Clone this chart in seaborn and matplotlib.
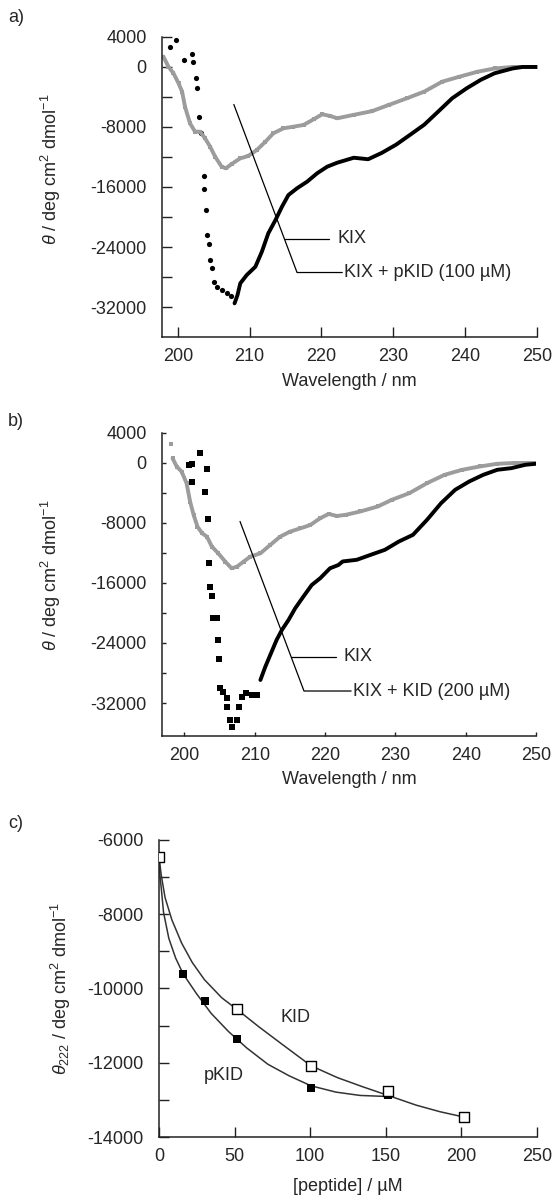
import matplotlib
matplotlib.use('Agg')
import matplotlib.pyplot as plt
import seaborn as sns
import pandas as pd

sns.set_style("ticks")
plt.rcParams['font.family'] = ['Liberation Sans', 'DejaVu Sans']
plt.rcParams['font.size'] = 13
plt.rcParams['mathtext.fontset'] = 'custom'
plt.rcParams['mathtext.rm'] = 'Liberation Sans'
plt.rcParams['mathtext.it'] = 'Liberation Sans:italic'
plt.rcParams['axes.unicode_minus'] = False

GRAY = '#9c9c9c'

# ---- panel a: KIX / KIX + pKID (100 uM)
a_kix_wl = [198.0, 198.7, 199.4, 200.1, 200.6, 201.0, 201.7, 202.4, 203.1, 203.8, 204.5,
            205.2, 206.1, 206.7, 207.5, 208.7, 209.8, 211.0, 212.2, 213.3, 214.7, 216.1,
            217.5, 218.9, 220.1, 221.2, 222.2, 224.5, 227.0, 229.4, 231.9, 234.3, 236.8,
            239.2, 241.7, 244.1, 246.6, 249.0, 250.0]
a_kix_theta = [1370, 40, -840, -2170, -3290, -5290, -7510, -8630, -8630, -9510, -10630,
               -11960, -13290, -13510, -12930, -12180, -11870, -11070, -9960, -8840, -8180, -7960,
               -7730, -6980, -6310, -6530, -6840, -6380, -5900, -5050, -4170, -3290, -1960,
               -1300, -640, -200, 0, 0, 0]

a_pkid_dots_wl = [198.9, 199.8, 200.8, 202.0, 202.1, 202.6, 202.7, 203.0, 203.25, 203.67,
                  203.7, 203.9, 204.1, 204.4, 204.55, 204.7, 205.1, 205.5, 206.1, 206.8, 207.4]
a_pkid_dots_theta = [2710, 3600, 930, 1690, 710, -1510, -2760, -6630, -8840, -14530,
                     -16270, -19070, -22400, -23640, -25730, -26840, -28620, -29290, -29730, -30090, -30530]

a_pkid_wl = [207.9, 208.3, 208.7, 209.6, 210.8, 211.7, 212.6, 213.6, 214.5, 215.4, 216.6,
             218.0, 219.4, 220.8, 222.2, 224.5, 226.5, 228.4, 230.4, 232.4, 234.3, 236.3,
             238.2, 240.2, 242.2, 244.1, 246.6, 248.0, 250.0]
a_pkid_theta = [-31510, -30440, -28840, -27730, -26630, -24630, -22170, -20400, -18630, -17070, -16170,
                -15290, -14170, -13290, -12760, -12100, -12300, -11450, -10350, -9000, -7700, -5900,
                -4170, -2850, -1700, -840, -200, 0, 0]

# ---- panel b: KIX / KIX + KID (200 uM)
b_kix_dot_wl = [198.1]
b_kix_dot_theta = [2530]
b_kix_wl = [198.3, 198.9, 199.6, 200.3, 200.8, 201.3, 201.85, 202.5, 203.2, 203.9,
            204.8, 205.8, 206.7, 207.45, 208.4, 209.35, 210.8, 212.2, 213.6, 215.0, 216.5,
            217.9, 219.3, 220.5, 221.7, 223.0, 225.0, 227.5, 229.5, 232.0, 234.5, 237.0,
            239.5, 242.0, 244.5, 247.0, 249.75]
b_kix_theta = [630, -490, -1160, -2710, -5160, -6930, -8490, -9370, -9830, -11160,
               -12040, -13160, -14040, -13830, -13160, -12490, -12040, -10930, -9830, -9160, -8710,
               -8270, -7370, -6800, -7070, -6900, -6470, -5800, -4910, -4020, -2690, -1580,
               -910, -470, -110, 0, 0]

b_kid_dots_wl = [200.7, 201.1, 201.1, 202.2, 203.2, 202.9, 203.3, 203.5, 203.7, 203.9, 204.1,
                 204.6, 204.75, 204.9, 205.1, 205.5, 206.0, 206.1, 206.5, 206.7, 207.45, 207.8,
                 208.2, 208.8, 209.6, 210.3]
b_kid_dots_theta = [-270, -130, -2490, 1380, -840, -3830, -7510, -13290, -16490, -17730, -20710,
                    -20710, -23600, -26130, -30040, -30490, -31370, -32490, -34270, -35240, -34270, -32490,
                    -31160, -30710, -30930, -30930]

b_kid_wl = [210.8, 211.5, 212.2, 213.1, 213.85, 214.8, 215.75, 216.9, 218.1, 219.3, 220.7,
            221.9, 222.5, 224.5, 226.5, 228.5, 230.5, 232.5, 234.5, 236.5, 238.5, 240.5,
            242.5, 244.5, 246.5, 248.5, 250.0]
b_kid_theta = [-28930, -27160, -25600, -23600, -22270, -20930, -19370, -17830, -16270, -15370, -14040,
               -13600, -13130, -12910, -12240, -11580, -10470, -9580, -7580, -5360, -3580, -2470,
               -1580, -910, -690, -240, -110]

wl_ticks = [200, 210, 220, 230, 240, 250]
theta_ticks = [4000, 0, -4000, -8000, -12000, -16000, -20000, -24000, -28000, -32000]
theta_labels = ['4000', '0', '', '-8000', '', '-16000', '', '-24000', '', '-32000']

# ---- panel c: theta222 titration
kid_conc = [0, 51.5, 100.5, 151.5, 201.5]
kid_theta = [-6450, -10560, -12080, -12770, -13460]
pkid_conc = [0, 16, 30.5, 51.5, 100.5, 151.5]
pkid_theta = [-6450, -9600, -10350, -11360, -12690, -12860]

kid_fit_conc = [0, 1.5, 4, 8.5, 15, 22, 30, 41.5, 51.5, 66, 82, 100.5, 118, 135, 151.5, 170, 186, 201.5]
kid_fit_theta = [-6450, -6950, -7550, -8150, -8780, -9300, -9760, -10250, -10560, -11030, -11520,
                 -12080, -12400, -12650, -12880, -13140, -13320, -13460]
pkid_fit_conc = [0, 0.7, 1.5, 3, 6.5, 11, 16, 25, 34.5, 46, 58, 72, 86, 100.5, 117, 133, 152]
pkid_fit_theta = [-6450, -7000, -7300, -7950, -8650, -9180, -9610, -10150, -10670, -11160, -11600,
                  -12040, -12350, -12620, -12790, -12880, -12910]

conc_ticks = [0, 50, 100, 150, 200, 250]
c_ticks = [-6000, -7000, -8000, -9000, -10000, -11000, -12000, -13000, -14000]
c_labels = ['-6000', '', '-8000', '', '-10000', '', '-12000', '', '-14000']

theta_label = r'$\theta$ / deg cm$^2$ dmol$^{-1}$'

fig = plt.figure(figsize=(5.54, 11.96), dpi=100)
ax_a = fig.add_axes([0.2924, 0.7182, 0.6769, 0.2509])
ax_b = fig.add_axes([0.2924, 0.3846, 0.6751, 0.2534])
ax_c = fig.add_axes([0.2870, 0.0493, 0.6823, 0.2484])


def style_axes(ax, ticklen):
    sns.despine(ax=ax)
    for s in ('left', 'bottom'):
        ax.spines[s].set_linewidth(1.1)
        ax.spines[s].set_color('#222222')
    ax.tick_params(direction='in', length=ticklen, width=1.0, color='#222222',
                   labelsize=13)
    ax.tick_params(axis='y', pad=11)
    ax.tick_params(axis='x', pad=8)
    ax.grid(False)


def spectrum(ax, kix_wl, kix_th, dots_wl, dots_th, cplx_wl, cplx_th, marker, msize):
    sns.lineplot(x=kix_wl, y=kix_th, ax=ax, color=GRAY, lw=2.8, sort=False, estimator=None)
    sns.scatterplot(x=kix_wl, y=kix_th, ax=ax, color=GRAY, marker='s', s=6, linewidth=0)
    sns.scatterplot(x=dots_wl, y=dots_th, ax=ax, color='black', marker=marker, s=msize, linewidth=0)
    sns.lineplot(x=cplx_wl, y=cplx_th, ax=ax, color='black', lw=2.8, sort=False, estimator=None)
    ax.set_xticks(wl_ticks)
    ax.set_yticks(theta_ticks)
    ax.set_yticklabels(theta_labels)
    ax.set_xlabel('Wavelength / nm', fontsize=13)
    ax.set_ylabel(theta_label, fontsize=13)


# panel a
spectrum(ax_a, a_kix_wl, a_kix_theta, a_pkid_dots_wl, a_pkid_dots_theta,
         a_pkid_wl, a_pkid_theta, 'o', 14)
ax_a.set_xlim(197.8, 250)
ax_a.set_ylim(-36000, 4000)
style_axes(ax_a, 7)
ax_a.xaxis.set_label_coords(0.5, -0.12)
ax_a.yaxis.set_label_coords(-0.264, 0.56)
ax_a.plot([207.8, 216.6, 222.9], [-5000, -27400, -27400], color='black', lw=0.9)
ax_a.plot([214.9, 221.1], [-22870, -22870], color='black', lw=0.9)
ax_a.text(222.3, -22870, 'KIX', va='center', ha='left', fontsize=13)
ax_a.text(223.2, -27400, 'KIX + pKID (100 µM)', va='center', ha='left', fontsize=13)

# panel b
spectrum(ax_b, b_kix_wl, b_kix_theta, b_kid_dots_wl, b_kid_dots_theta,
         b_kid_wl, b_kid_theta, 's', 18)
sns.scatterplot(x=b_kix_dot_wl, y=b_kix_dot_theta, ax=ax_b, color=GRAY, marker='s', s=12, linewidth=0)
ax_b.set_xlim(196.8, 250)
ax_b.set_ylim(-36400, 4000)
style_axes(ax_b, 3)
ax_b.xaxis.set_label_coords(0.5, -0.115)
ax_b.yaxis.set_label_coords(-0.264, 0.53)
ax_b.plot([207.9, 217.0, 223.7], [-7800, -30400, -30400], color='black', lw=0.9)
ax_b.plot([215.15, 221.5], [-25800, -25800], color='black', lw=0.9)
ax_b.text(222.6, -25800, 'KIX', va='center', ha='left', fontsize=13)
ax_b.text(224.0, -30400, 'KIX + KID (200 µM)', va='center', ha='left', fontsize=13)

# panel c
sns.lineplot(x=kid_fit_conc, y=kid_fit_theta, ax=ax_c, color='#333333', lw=1.1,
             sort=False, estimator=None)
sns.lineplot(x=pkid_fit_conc, y=pkid_fit_theta, ax=ax_c, color='#333333', lw=1.1,
             sort=False, estimator=None)
sns.scatterplot(x=pkid_conc, y=pkid_theta, ax=ax_c, color='black', marker='s', s=32,
                linewidth=0, zorder=3)
sns.scatterplot(x=kid_conc, y=kid_theta, ax=ax_c, facecolor='white', edgecolor='black',
                marker='s', s=42, linewidth=1.0, zorder=4)
ax_c.set_xlim(0, 250)
ax_c.set_ylim(-14000, -6000)
ax_c.set_xticks(conc_ticks)
ax_c.set_yticks(c_ticks)
ax_c.set_yticklabels(c_labels)
style_axes(ax_c, 7)
ax_c.set_xlabel('[peptide] / µM', fontsize=13)
ax_c.set_ylabel(r'$\theta_{222}$ / deg cm$^2$ dmol$^{-1}$', fontsize=13)
ax_c.xaxis.set_label_coords(0.5, -0.138)
ax_c.yaxis.set_label_coords(-0.228, 0.5)
ax_c.text(90, -10770, 'KID', ha='center', va='center', fontsize=13)
ax_c.text(43, -12350, 'pKID', ha='center', va='center', fontsize=13)

# panel letters
fig.text(8 / 554, 1 - 18 / 1196, 'a)', ha='left', va='center', fontsize=13)
fig.text(8 / 554, 1 - 422 / 1196, 'b)', ha='left', va='center', fontsize=13)
fig.text(8 / 554, 1 - 824 / 1196, 'c)', ha='left', va='center', fontsize=13)

plt.savefig('out.png', dpi=100)
plt.close()
